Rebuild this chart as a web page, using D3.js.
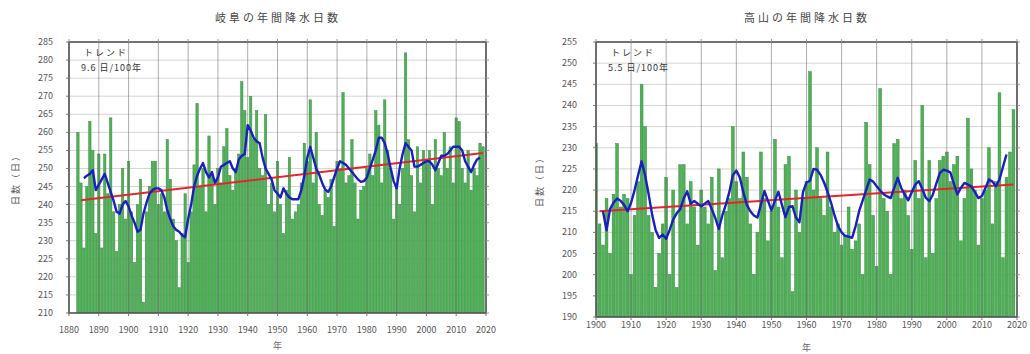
<!DOCTYPE html>
<html>
<head>
<meta charset="utf-8">
<script src="https://cdn.jsdelivr.net/npm/d3@7"></script>
<style>
  body { margin: 0; background: #fff; }
  svg { display: block; font-family: "Noto Sans CJK JP", "Noto Sans", sans-serif; }
</style>
</head>
<body>
<svg id="chart" width="1030" height="354"></svg>
<script>
// 岐阜 (Gifu) annual precipitation days, 1883-2019
const gifuFirstYear = 1883;
const gifuDays = [
  260, 246, 228, 245, 263, 255, 232,
  254, 228, 254, 243, 264, 238, 227, 240, 250, 236,
  252, 238, 224, 240, 247, 213, 238, 245, 252, 252,
  240, 243, 238, 258, 247, 236, 230, 217, 232, 243,
  224, 238, 251, 268, 245, 250, 238, 259, 248, 240,
  250, 246, 256, 261, 248, 244, 250, 254, 274, 266,
  253, 270, 258, 266, 250, 248, 265, 240, 246, 238,
  252, 240, 232, 244, 253, 236, 238, 240, 246, 257,
  252, 269, 246, 260, 240, 237, 244, 242, 247, 234,
  252, 250, 271, 246, 248, 258, 246, 236, 244, 245,
  250, 254, 248, 266, 262, 246, 269, 255, 250, 236,
  245, 240, 250, 282, 258, 248, 238, 256, 246, 255,
  252, 255, 240, 258, 250, 248, 260, 250, 256, 246,
  264, 263, 250, 246, 255, 244, 250, 248, 257, 256
];
// 5-year running mean (blue), 1885-2018
const gifuMaFirstYear = 1885;
const gifuMa = [
  247.3, 248, 248.5, 249.5, 244,
  245.5, 247, 248.5, 246, 243.5, 241, 238, 237.5, 240, 241,
  239.5, 237, 235, 232.5, 233, 237.5, 240.5, 243, 244, 244.5,
  244.5, 244, 242, 238.5, 236, 234, 233, 232.5, 231.5, 231,
  236, 240, 245, 248, 250, 251.5, 249, 247.5, 249, 246,
  247.5, 250.5, 251, 251.5, 252, 250, 249, 252.5, 253.5, 254,
  262, 260.5, 258.5, 257.5, 257, 253, 250, 248.5, 247, 244,
  243, 242, 244.5, 243, 242, 241.5, 241.5, 241.5, 244, 248,
  253, 256, 253, 250, 248.3, 246, 244.2, 243.5, 245, 247.5,
  250, 252, 251.5, 251, 250, 249, 248, 247, 246.3, 246.5,
  247.5, 250, 252.5, 255, 258.5, 258.5, 257, 254, 250, 246.5,
  244.5, 250, 254, 257, 256, 255, 250.5, 250.5, 251, 251.5,
  252, 252, 251, 249.5, 251.5, 253.5, 253.5, 254, 255, 256,
  256, 256, 255, 252, 250.5, 249, 251, 252.5, 253
];
const gifuTrendYears = [1884, 2019];
const gifuTrendDays = [241.2, 254.3];
const gifuYTicks = [210, 215, 220, 225, 230, 235, 240, 245, 250, 255, 260, 265, 270, 275, 280, 285];
const gifuXTicks = [1880, 1890, 1900, 1910, 1920, 1930, 1940, 1950, 1960, 1970, 1980, 1990, 2000, 2010, 2020];

// 高山 (Takayama) annual precipitation days, 1900-2019
const takaFirstYear = 1900;
const takaDays = [
  231, 212, 207, 218, 205, 219, 231, 216, 219, 218,
  200, 214, 222, 245, 235, 214, 210, 197, 205, 212,
  223, 200, 220, 197, 226, 226, 212, 222, 216, 207,
  220, 216, 212, 223, 201, 225, 204, 215, 218, 235,
  222, 218, 229, 223, 212, 200, 210, 229, 218, 208,
  215, 232, 216, 204, 226, 228, 196, 220, 210, 218,
  222, 248, 220, 230, 218, 214, 229, 216, 210, 212,
  207, 209, 216, 206, 208, 212, 200, 236, 226, 214,
  202, 244, 218, 215, 200, 231, 232, 218, 220, 214,
  206, 227, 218, 240, 204, 227, 205, 218, 227, 228,
  229, 222, 226, 228, 208, 218, 237, 225, 220, 207,
  218, 220, 230, 212, 222, 243, 204, 223, 229, 239
];
const takaMaFirstYear = 1902;
const takaMa = [
  215, 210.5, 215.5, 217, 218, 217.5, 216.5, 215,
  217, 220, 223.5, 226.8, 223.5, 219, 214.2, 210.5, 208.7, 209.5,
  208.5, 210.6, 213, 214.5, 215.5, 218, 219.7, 216.8, 217.4, 216.8,
  216.2, 216.8, 217.4, 215.5, 213.4, 210.8, 214, 216.5, 219.5, 223.5,
  224.6, 223, 219.5, 216.5, 215, 214, 213.5, 216.5, 219.8, 217.5,
  215.2, 217.5, 219.6, 216.5, 213.6, 216, 216.2, 213.5, 212.4, 219.5,
  221.8, 222.2, 225, 224.8, 223.6, 221.8, 219.6, 217, 214, 211.5,
  210, 209.2, 209, 208.7, 211.5, 215, 217.5, 220, 222.5, 222,
  220.9, 219.9, 219, 218.5, 218.1, 220.5, 222.9, 220.5, 218.9, 217.6,
  219.5, 221.3, 222.1, 220.3, 218.2, 217.4, 218.9, 221.5, 224, 224.8,
  224.6, 224.2, 221.5, 219, 220.5, 221.7, 221.3, 220.9, 219.5, 218.1,
  218.6, 220.5, 222.5, 222, 220.9, 222.5, 225.5, 228.4
];
const takaTrendYears = [1901, 2019];
const takaTrendDays = [215.0, 221.3];
const takaYTicks = [190, 195, 200, 205, 210, 215, 220, 225, 230, 235, 240, 245, 250, 255];
const takaXTicks = [1900, 1910, 1920, 1930, 1940, 1950, 1960, 1970, 1980, 1990, 2000, 2010, 2020];

const svg = d3.select('#chart');

function toPoints(first, vals) {
  return vals.map((v, i) => ({ year: first + i, value: v }));
}

function drawPanel(p) {
  const x = d3.scaleLinear().domain(p.xDomain).range([p.left, p.right]);
  const y = d3.scaleLinear().domain(p.yDomain).range([p.bottom, p.top]);
  const g = svg.append('g');

  const clipId = 'clip-' + p.id;
  g.append('clipPath').attr('id', clipId)
    .append('rect')
    .attr('x', p.left).attr('y', p.top)
    .attr('width', p.right - p.left).attr('height', p.bottom - p.top);

  // horizontal grid
  g.selectAll('.hgrid').data(p.yTicks).enter().append('line')
    .attr('x1', p.left).attr('x2', p.right)
    .attr('y1', d => y(d)).attr('y2', d => y(d))
    .attr('stroke', '#d4d4d4').attr('stroke-width', 1);

  const bw = (x(p.xDomain[0] + 1) - x(p.xDomain[0])) * 0.8;
  g.append('g').attr('clip-path', `url(#${clipId})`)
    .selectAll('rect').data(p.bars).enter().append('rect')
    .attr('x', d => x(d.year) - bw / 2)
    .attr('width', bw)
    .attr('y', d => y(d.value))
    .attr('height', d => p.bottom - y(d.value))
    .attr('fill', '#4cb254')
    .attr('stroke', '#3d8a45')
    .attr('stroke-width', 0.5);

  // vertical grid, drawn above the bars
  g.selectAll('.vgrid').data(p.xTicks).enter().append('line')
    .attr('x1', d => x(d)).attr('x2', d => x(d))
    .attr('y1', p.top).attr('y2', p.bottom)
    .attr('stroke', '#6a6a6a').attr('stroke-opacity', 0.55).attr('stroke-width', 1);

  const line = d3.line().x(d => x(d.year)).y(d => y(d.value));
  g.append('path').datum(p.trend)
    .attr('d', line).attr('fill', 'none')
    .attr('stroke', '#e8242b').attr('stroke-width', 2);
  g.append('path').datum(p.ma)
    .attr('d', line).attr('fill', 'none')
    .attr('stroke', '#1a1fc0').attr('stroke-width', 2.4)
    .attr('stroke-linejoin', 'round');

  // frame
  g.append('rect')
    .attr('x', p.left).attr('y', p.top)
    .attr('width', p.right - p.left).attr('height', p.bottom - p.top)
    .attr('fill', 'none').attr('stroke', '#555').attr('stroke-width', 1.6);

  // small outer ticks
  g.selectAll('.ty').data(p.yTicks).enter().append('line')
    .attr('x1', p.left - 3).attr('x2', p.left)
    .attr('y1', d => y(d)).attr('y2', d => y(d))
    .attr('stroke', '#777');
  g.selectAll('.ty2').data(p.yTicks).enter().append('line')
    .attr('x1', p.right).attr('x2', p.right + 3)
    .attr('y1', d => y(d)).attr('y2', d => y(d))
    .attr('stroke', '#999');
  g.selectAll('.tx').data(p.xTicks).enter().append('line')
    .attr('x1', d => x(d)).attr('x2', d => x(d))
    .attr('y1', p.top - 3).attr('y2', p.top)
    .attr('stroke', '#999');
  g.selectAll('.tx2').data(p.xTicks).enter().append('line')
    .attr('x1', d => x(d)).attr('x2', d => x(d))
    .attr('y1', p.bottom).attr('y2', p.bottom + 3)
    .attr('stroke', '#777');

  // tick labels
  g.selectAll('.yl').data(p.yTicks).enter().append('text')
    .attr('x', p.left - p.yLabelGap).attr('y', d => y(d) + 3)
    .attr('text-anchor', 'end').attr('font-size', 9).attr('fill', '#555')
    .text(d => d);
  g.selectAll('.xl').data(p.xTicks).enter().append('text')
    .attr('x', d => x(d)).attr('y', p.bottom + p.xLabelGap)
    .attr('text-anchor', 'middle').attr('font-size', 9).attr('fill', '#555')
    .text(d => d);

  // titles
  g.append('text')
    .attr('x', p.titleX).attr('y', 22)
    .attr('text-anchor', 'middle').attr('font-size', 11)
    .attr('letter-spacing', 3).attr('fill', '#444')
    .text(p.title);
  g.append('text')
    .attr('transform', `translate(${p.yTitleX},${(p.top + p.bottom) / 2}) rotate(-90)`)
    .attr('text-anchor', 'middle').attr('font-size', 9).attr('fill', '#555')
    .attr('letter-spacing', 2)
    .text('日数（日）');
  g.append('text')
    .attr('x', (p.left + p.right) / 2).attr('y', p.xTitleY)
    .attr('text-anchor', 'middle').attr('font-size', 9).attr('fill', '#666')
    .text('年');

  // trend note
  g.append('text')
    .attr('x', p.left + 15).attr('y', p.top + 14)
    .attr('font-size', 9).attr('fill', '#333').attr('letter-spacing', 2)
    .text('トレンド');
  g.append('text')
    .attr('x', p.left + 12).attr('y', p.top + 29)
    .attr('font-size', 9).attr('fill', '#333').attr('letter-spacing', 1)
    .text(p.trendNote);
}

drawPanel({
  id: 'gifu',
  left: 69, right: 486, top: 42, bottom: 313,
  xDomain: [1880, 2020], yDomain: [210, 285],
  xTicks: gifuXTicks, yTicks: gifuYTicks,
  bars: toPoints(gifuFirstYear, gifuDays),
  ma: toPoints(gifuMaFirstYear, gifuMa),
  trend: gifuTrendYears.map((yr, i) => ({ year: yr, value: gifuTrendDays[i] })),
  title: '岐阜の年間降水日数', titleX: 278,
  trendNote: '9.6 日/100年',
  yLabelGap: 16, xLabelGap: 20, yTitleX: 19, xTitleY: 349
});

drawPanel({
  id: 'taka',
  left: 596, right: 1017, top: 42, bottom: 317,
  xDomain: [1900, 2020], yDomain: [190, 255],
  xTicks: takaXTicks, yTicks: takaYTicks,
  bars: toPoints(takaFirstYear, takaDays),
  ma: toPoints(takaMaFirstYear, takaMa),
  trend: takaTrendYears.map((yr, i) => ({ year: yr, value: takaTrendDays[i] })),
  title: '高山の年間降水日数', titleX: 807,
  trendNote: '5.5 日/100年',
  yLabelGap: 19, xLabelGap: 11, yTitleX: 543, xTitleY: 351
});
</script>
</body>
</html>
